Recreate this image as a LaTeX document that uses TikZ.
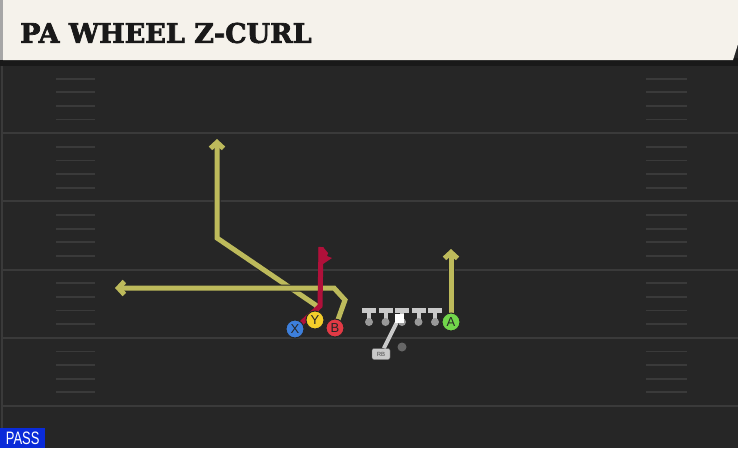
\documentclass[tikz,border=0pt]{standalone}
\usepackage{fontspec}
\setmainfont{Liberation Sans}
\newfontfamily\titlefont[BoldFeatures={FakeBold=2.5}]{DejaVu Serif}
\usetikzlibrary{arrows.meta}

\definecolor{fieldbg}{HTML}{262626}
\definecolor{fieldline}{HTML}{3A3A3A}
\definecolor{titlebg}{HTML}{F5F2EB}
\definecolor{routeolive}{HTML}{BDBA5B}
\definecolor{routered}{HTML}{B0103A}
\definecolor{xblue}{HTML}{3D7FDB}
\definecolor{yyellow}{HTML}{F3CD2B}
\definecolor{bred}{HTML}{E23A45}
\definecolor{agreen}{HTML}{72D64B}
\definecolor{linegray}{HTML}{C9C9C9}
\definecolor{passblue}{HTML}{0A2BD9}

\pgfdeclarelayer{field}
\pgfdeclarelayer{routes}
\pgfsetlayers{field,routes,main}

\tikzset{
  player/.style={circle,draw=black!85,line width=1pt,minimum size=18pt,inner sep=0pt,
    text=black!85,font=\fontsize{13}{13}\selectfont},
  route/.style={line width=5pt,draw=routeolive,line join=miter,
    preaction={draw=black!85,line width=7pt}},
  redroute/.style={line width=5pt,draw=routered,line join=miter},
  tip/.style={-{Straight Barb[length=6pt,width=13pt]}},
  hashmark/.style={draw=fieldline,line width=1.8pt},
  yardline/.style={draw=fieldline,line width=2pt}
}

\begin{document}
\begin{tikzpicture}[x=1pt,y=-1pt,inner sep=0pt]
\useasboundingbox (0,0) rectangle (738,448);
% Field
\begin{pgfonlayer}{field}
\fill[fieldbg] (0,0) rectangle (738,448);
\fill[black!90] (0,58) rectangle (738,66);
\draw[fieldline,line width=1.5pt] (2,66) -- (2,448);
\foreach \k in {0,...,4} {
  \draw[yardline] (3,65+68.2*\k+68.2) -- (738,65+68.2*\k+68.2);
  \foreach \j in {1,...,4} {
    \draw[hashmark] (56,65+68.2*\k+13.64*\j) -- (95,65+68.2*\k+13.64*\j);
    \draw[hashmark] (646,65+68.2*\k+13.64*\j) -- (687,65+68.2*\k+13.64*\j);
  }
}
% Title bar
\fill[black!35] (0,0) rectangle (3,60);
\fill[titlebg] (3,0) -- (738,0) -- (738,44) -- (733,60) -- (3,60) -- cycle;
\end{pgfonlayer}
\node at (20,33) [anchor=west,text=black!90] (Title)
  {\titlefont\bfseries\fontsize{27}{27}\selectfont PA WHEEL Z-CURL};
% Offensive line
\foreach \x in {369,385.5,402,418.5,435} {
  \draw[linegray,line width=5pt] (\x-7,310) -- (\x+7,310);
  \draw[linegray,line width=4pt] (\x,310) -- (\x,320);
  \fill[gray!80] (\x,322) circle (4);
}
\node at (402,347) [circle,fill=black!60,minimum size=9pt] (Ball) {};
\node at (381,354) [rounded corners=2pt,fill=linegray,draw=black!60,minimum width=18pt,
  minimum height=11pt,font=\fontsize{6}{6}\selectfont,text=black!70] (RB) {RB};
\node at (399,318) [fill=white,minimum size=9pt] (QB) {};
\begin{pgfonlayer}{routes}
\draw[linegray,line width=4pt] (QB) -- (RB);
\end{pgfonlayer}
% Route points
\coordinate (YStem) at (317,306);
\coordinate (YBreak) at (217,238);
\coordinate (YEnd) at (217,139);
\coordinate (BUp) at (345,300);
\coordinate (BTurn) at (334,288);
\coordinate (BEnd) at (115,288);
\coordinate (XBreak) at (320,306);
\coordinate (XTop) at (321,247);
\coordinate (AEnd) at (451,249);
% Players
\node at (295,329) [player,fill=xblue] (X) {X};
\node at (315,320) [player,fill=yyellow] (Y) {Y};
\node at (335,328) [player,fill=bred] (B) {B};
\node at (451,322) [player,fill=agreen] (A) {A};
% Routes
\begin{pgfonlayer}{routes}
\draw[route,tip] (Y.center) -- (YStem) -- (YBreak) -- (YEnd);
\draw[route,tip] (B.center) -- (BUp) -- (BTurn) -- (BEnd);
\draw[route,tip] (A.center) -- (AEnd);
\draw[redroute] (X.center) -- (XBreak) -- (XTop);
\fill[routered] (318.5,247) -- (323,247) -- (328,253) -- (327,256) -- (332,258) -- (323,264) -- (318.5,264) -- cycle;
\end{pgfonlayer}
% Tag
\node at (0,448) [anchor=south west,fill=passblue,minimum width=45pt,minimum height=20pt,
  text=white,font=\fontsize{18}{18}\selectfont] (Pass) {\scalebox{0.72}[1]{PASS}};
\end{tikzpicture}
\end{document}
